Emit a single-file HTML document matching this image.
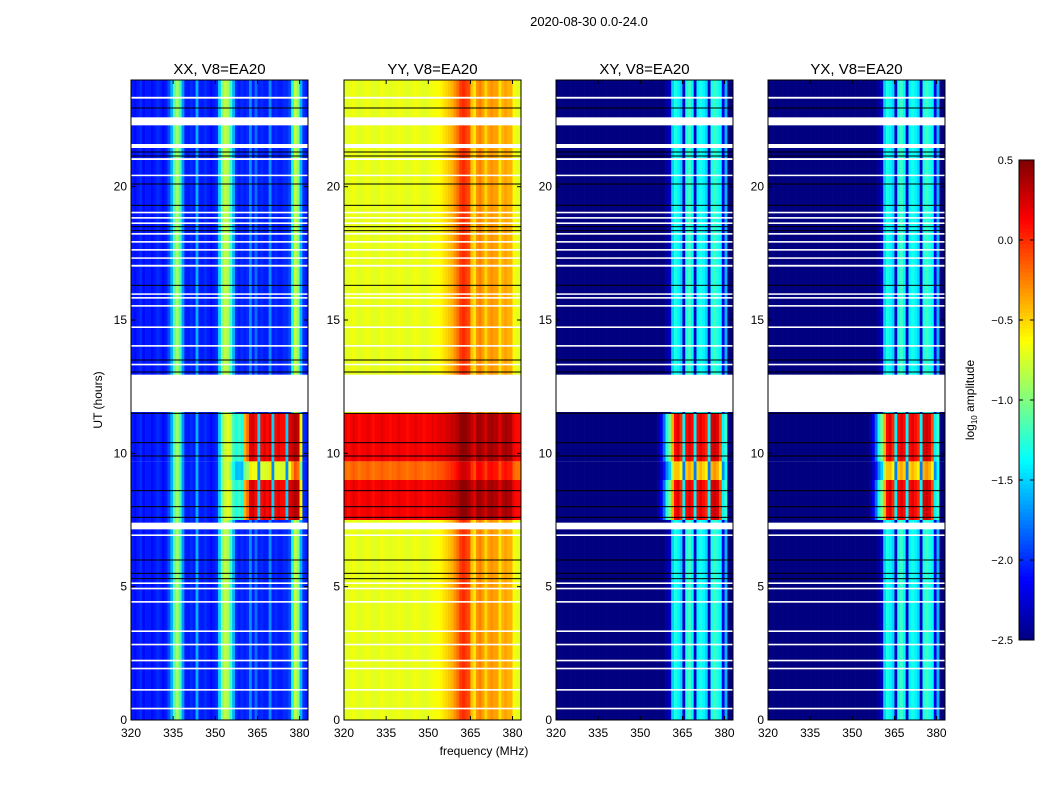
<!DOCTYPE html>
<html><head><meta charset="utf-8">
<style>
body{margin:0;background:#fff;}
svg{display:block;font-family:"Liberation Sans","DejaVu Sans",sans-serif;}
</style></head>
<body>
<svg id="fig" width="1050" height="800" viewBox="0 0 1050 800">
<rect width="1050" height="800" fill="#fff"/>
<text x="589" y="26" font-size="13" text-anchor="middle">2020-08-30 0.0-24.0</text>
</svg>
<script>
// ---- data ----
const freqBins = []; for (let f = 320; f <= 382; f++) freqBins.push(f);
const panelTitles = ["XX, V8=EA20","YY, V8=EA20","XY, V8=EA20","YX, V8=EA20"];
const xTicks = [320,335,350,365,380];
const yTicks = [0,5,10,15,20];
const cbTicks = [0.5,0.0,-0.5,-1.0,-1.5,-2.0,-2.5];
// quiet-time frequency profiles (log10 amplitude), 320..382 MHz
const xxQuiet = [-2.05,-2.1,-2.05,-2.0,-2.1,-2.05,-2.05,-2.1,-2.05,-2.0,-2.05,-2.1,-2.05,-1.9,-1.6,-1.1,-0.9,-1.2,-1.7,-2.05,-2.05,-2.0,-2.05,-1.6,-2.05,-2.05,-2.0,-2.05,-2.1,-2.05,-2.0,-1.5,-1.0,-0.8,-0.9,-1.2,-1.6,-2.0,-2.05,-2.0,-2.05,-2.0,-1.7,-2.05,-1.8,-2.05,-2.0,-2.05,-2.05,-1.7,-2.05,-2.0,-2.05,-2.05,-2.0,-2.0,-1.9,-1.3,-0.8,-1.0,-1.6,-2.0,-2.05];
const xxActive = [-2.05,-2.1,-2.05,-2.0,-2.1,-2.05,-2.05,-2.1,-2.05,-2.0,-2.05,-2.1,-2.05,-1.9,-1.6,-1.1,-0.9,-1.2,-1.7,-2.05,-2.05,-2.0,-2.05,-1.6,-2.05,-2.05,-2.0,-2.05,-2.1,-2.05,-2.0,-1.5,-1.0,-0.8,-0.7,-0.8,-1.2,-1.3,-1.2,-1.3,-0.4,-0.2,0.2,0.25,0.1,-1.5,0.1,0.2,0.1,0.2,-1.5,0.1,0.2,0.1,0.1,-1.5,0.2,0.3,0.35,0.3,-0.6,-2.0,-2.05];
const yyQuiet = [-0.7,-0.72,-0.68,-0.66,-0.7,-0.72,-0.7,-0.68,-0.66,-0.7,-0.72,-0.7,-0.7,-0.66,-0.68,-0.7,-0.72,-0.68,-0.7,-0.66,-0.68,-0.7,-0.72,-0.7,-0.68,-0.66,-0.68,-0.7,-0.72,-0.7,-0.68,-0.65,-0.66,-0.62,-0.6,-0.55,-0.5,-0.45,-0.4,-0.3,-0.2,-0.05,0.0,-0.05,-0.1,-0.45,-0.55,-0.3,-0.25,-0.35,-0.5,-0.35,-0.3,-0.35,-0.35,-0.55,-0.4,-0.35,-0.4,-0.4,-0.65,-0.7,-0.7];
const yyActive = [0.15,0.1,0.15,0.2,0.15,0.1,0.15,0.15,0.2,0.15,0.1,0.15,0.15,0.2,0.15,0.15,0.1,0.15,0.15,0.2,0.15,0.15,0.1,0.15,0.15,0.2,0.15,0.15,0.1,0.15,0.15,0.2,0.15,0.2,0.2,0.2,0.25,0.25,0.3,0.3,0.35,0.45,0.45,0.45,0.4,0.3,0.2,0.4,0.4,0.35,0.25,0.4,0.4,0.35,0.35,0.2,0.35,0.4,0.35,0.35,0.15,0.1,0.1];
const xyQuiet = [-2.5,-2.5,-2.5,-2.5,-2.5,-2.5,-2.5,-2.5,-2.5,-2.5,-2.5,-2.5,-2.5,-2.5,-2.5,-2.5,-2.5,-2.5,-2.5,-2.5,-2.5,-2.5,-2.5,-2.5,-2.5,-2.5,-2.5,-2.5,-2.5,-2.5,-2.5,-2.5,-2.5,-2.5,-2.5,-2.5,-2.5,-2.5,-2.5,-2.4,-2.3,-1.5,-1.3,-1.4,-1.5,-2.3,-1.3,-1.2,-1.4,-2.3,-1.4,-1.3,-1.4,-1.5,-2.3,-1.3,-1.2,-1.3,-1.4,-2.2,-1.6,-2.5,-2.5];
const xyActive = [-2.5,-2.5,-2.5,-2.5,-2.5,-2.5,-2.5,-2.5,-2.5,-2.5,-2.5,-2.5,-2.5,-2.5,-2.5,-2.5,-2.5,-2.5,-2.5,-2.5,-2.5,-2.5,-2.5,-2.5,-2.5,-2.5,-2.5,-2.5,-2.5,-2.5,-2.5,-2.5,-2.5,-2.5,-2.5,-2.5,-2.4,-2.2,-1.8,-1.3,-1.0,-0.4,0.1,0.2,0.0,-1.4,0.1,0.2,0.1,-1.4,0.1,0.2,0.1,0.0,-1.4,0.2,0.3,0.2,-0.1,-1.4,-1.2,-2.5,-2.5];
const panelQuiet = [xxQuiet, yyQuiet, xyQuiet, xyQuiet];
const panelActive = [xxActive, yyActive, xyActive, xyActive];
// time bands and activity weight
const bandStarts = [0, 7.5, 9.0, 9.7, 11.5];
const bandEnds   = [7.5, 9.0, 9.7, 11.5, 24];
const bandActive = [0, 1, 0.6, 1, 0];
// flagged (white) intervals
const flagStart = [11.55, 22.3, 21.45, 7.15, 23.3, 21.0, 19.0, 18.8, 18.6, 18.2, 17.9, 17.6, 17.0, 15.8, 15.5, 14.7, 14.0, 13.3, 6.9, 5.1, 4.9, 4.4, 3.3, 2.8, 2.2, 1.9, 1.1, 0.4, 15.95, 17.3, 20.4];
const flagEnd   = [12.95, 22.6, 21.6, 7.4, 23.37, 21.07, 19.06, 18.86, 18.66, 18.26, 17.96, 17.66, 17.07, 15.86, 15.56, 14.76, 14.06, 13.36, 6.96, 5.16, 4.96, 4.46, 3.36, 2.86, 2.26, 1.96, 1.16, 0.46, 16.0, 17.35, 20.45];
// black lines
const blackLines = [21.3, 21.15, 20.1, 18.5, 18.35, 16.3, 13.5, 13.05, 11.5, 10.4, 9.9, 8.6, 8.0, 7.6, 6.0, 5.5, 5.3, 19.3, 22.95];

// ---- layout ----
const NS = "http://www.w3.org/2000/svg";
const svg = document.getElementById("fig");
const panelX = [131, 344, 556, 768];
const PW = 177, PT = 80, PB = 720;
const fMin = 320, fMax = 383, tMin = 0, tMax = 24;
const vMin = -2.5, vMax = 0.5;
function xs(i, f) { return panelX[i] + (f - fMin) / (fMax - fMin) * PW; }
function ys(t) { return PB - (t - tMin) / (tMax - tMin) * (PB - PT); }
function jet(v) {
  let n = Math.max(0, Math.min(1, (v - vMin) / (vMax - vMin)));
  const c = k => Math.round(255 * Math.max(0, Math.min(1, 1.5 - Math.abs(4 * n - k))));
  return `rgb(${c(3)},${c(2)},${c(1)})`;
}
function mk(tag, attrs, parent) {
  const e = document.createElementNS(NS, tag);
  for (const k in attrs) e.setAttribute(k, attrs[k]);
  (parent || svg).appendChild(e);
  return e;
}

for (let p = 0; p < 4; p++) {
  const g = mk("g", {});
  
  
  for (let b = 0; b < bandStarts.length; b++) {
    for (let i = 0; i < freqBins.length; i++) {
      const a = bandActive[b];
      const v = panelQuiet[p][i] * (1 - a) + panelActive[p][i] * a;
      const x0 = xs(p, freqBins[i]), x1 = xs(p, freqBins[i] + 1);
      const r = mk("rect", {x: x0, y: ys(bandEnds[b]), width: Math.min(x1, panelX[p] + PW) - x0 + 0.3, height: ys(bandStarts[b]) - ys(bandEnds[b]), fill: jet(v)}, g);
      
      
    }
  }
  for (let k = 0; k < blackLines.length; k++) {
    const l = mk("rect", {x: panelX[p], y: ys(blackLines[k]) - 0.5, width: PW, height: 1, fill: "#000"}, g);
    
    
  }
  for (let k = 0; k < flagStart.length; k++) {
    const w = mk("rect", {x: panelX[p], y: ys(flagEnd[k]), width: PW, height: Math.max(1.5, ys(flagStart[k]) - ys(flagEnd[k])), fill: "#fff"}, g);
    
    
  }
  const fr = mk("rect", {x: panelX[p], y: PT, width: PW, height: PB - PT, fill: "none", stroke: "#000", "stroke-width": 1});
  
  
  const tt = mk("text", {x: panelX[p] + PW / 2, y: 74, "font-size": 15, "text-anchor": "middle"});
  tt.textContent = panelTitles[p];
  
  
  for (const f of xTicks) {
    const x = xs(p, f);
    mk("line", {x1: x, x2: x, y1: PB, y2: PB - 4, stroke: "#000"});
    mk("line", {x1: x, x2: x, y1: PT, y2: PT + 4, stroke: "#000"});
    const t = mk("text", {x: x, y: PB + 17, "font-size": 12, "text-anchor": "middle"});
    t.textContent = f;
    
    
  }
  for (const h of yTicks) {
    const y = ys(h);
    mk("line", {x1: panelX[p], x2: panelX[p] + 4, y1: y, y2: y, stroke: "#000"});
    mk("line", {x1: panelX[p] + PW, x2: panelX[p] + PW - 4, y1: y, y2: y, stroke: "#000"});
    const t = mk("text", {x: panelX[p] - 4, y: y + 4, "font-size": 12, "text-anchor": "end"});
    t.textContent = h;
    
    
  }
}
const xl = mk("text", {x: 484, y: 755, "font-size": 12, "text-anchor": "middle"});
xl.textContent = "frequency (MHz)";


const yl = mk("text", {x: 102, y: 400, "font-size": 12, "text-anchor": "middle", transform: "rotate(-90 102 400)"});
yl.textContent = "UT (hours)";



// colorbar
const cbX = 1019, cbW = 15, cbT = 160, cbB = 640;
const cbG = mk("g", {});


for (let k = 0; k < 120; k++) {
  const v = vMin + (k + 0.5) / 120 * (vMax - vMin);
  mk("rect", {x: cbX, y: cbB - (k + 1) * (cbB - cbT) / 120, width: cbW, height: (cbB - cbT) / 120 + 0.5, fill: jet(v)}, cbG);
}
mk("rect", {x: cbX, y: cbT, width: cbW, height: cbB - cbT, fill: "none", stroke: "#000"}, cbG);
for (const v of cbTicks) {
  const y = cbB - (v - vMin) / (vMax - vMin) * (cbB - cbT);
  mk("line", {x1: cbX + cbW - 4, x2: cbX + cbW, y1: y, y2: y, stroke: "#000"}, cbG);
  mk("line", {x1: cbX, x2: cbX + 4, y1: y, y2: y, stroke: "#000"}, cbG);
  const t = mk("text", {x: 1013, y: y + 4, "font-size": 11, "text-anchor": "end"}, cbG);
  t.textContent = (v === 0 ? "0.0" : v.toFixed(1)).replace("-", "\u2212");
  
  
}
const cl = mk("text", {x: 974, y: 400, "font-size": 12, "text-anchor": "middle", transform: "rotate(-90 974 400)"});
cl.innerHTML = 'log<tspan font-size="8" dy="3">10</tspan><tspan dy="-3"> amplitude</tspan>';


</script>
</body></html>
